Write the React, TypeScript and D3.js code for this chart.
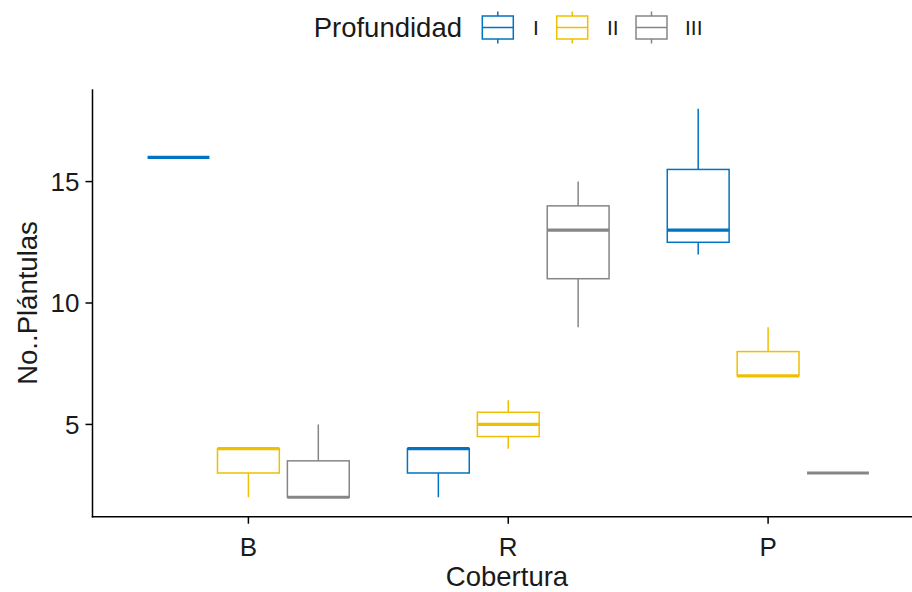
import React from "react";
import * as d3 from "d3";

// Cobertura categories and Profundidad groups
const categories = ["B", "R", "P"];
const groups = ["I", "II", "III"];
const groupColors = ["#0073C2", "#EFC000", "#868686"];

// Five-number summaries [min, q1, median, q3, max] per category (B, R, P)
const statsI = [
  [16, 16, 16, 16, 16],
  [2, 3, 4, 4, 4],
  [12, 12.5, 13, 15.5, 18],
];
const statsII = [
  [2, 3, 4, 4, 4],
  [4, 4.5, 5, 5.5, 6],
  [7, 7, 7, 8, 9],
];
const statsIII = [
  [2, 2, 2, 3.5, 5],
  [9, 11, 13, 14, 15],
  [3, 3, 3, 3, 3],
];
const seriesStats = [statsI, statsII, statsIII];

const yTicks = [5, 10, 15];
const yDomain = [1.2, 18.8];

const W = 912;
const H = 592;
const plotLeft = 92.5;
const plotRight = 924;
const plotTop = 89.3;
const plotBottom = 516.7;
const FONT = "'Liberation Sans', Arial, sans-serif";
const TITLE_SIZE = 27.5;
const TICK_SIZE = 26;

export default function App() {
  const x = d3
    .scalePoint<string>()
    .domain(categories)
    .range([plotLeft, plotRight])
    .padding(0.6);
  const step = x.step();
  const slot = step * 0.269;
  const boxW = step * 0.238;
  const y = d3.scaleLinear().domain(yDomain).range([plotBottom, plotTop]);

  const boxes: React.ReactNode[] = [];
  seriesStats.forEach((stats, gi) => {
    const color = groupColors[gi];
    stats.forEach((s, ci) => {
      const cx = (x(categories[ci]) as number) + (gi - 1) * slot;
      const [mn, q1, med, q3, mx] = s;
      const x0 = cx - boxW / 2;
      boxes.push(
        <g key={`${gi}-${ci}`} stroke={color} fill="white">
          {mx > q3 && (
            <line x1={cx} x2={cx} y1={y(q3)} y2={y(mx)} strokeWidth={1.5} />
          )}
          {mn < q1 && (
            <line x1={cx} x2={cx} y1={y(q1)} y2={y(mn)} strokeWidth={1.5} />
          )}
          <rect
            x={x0}
            y={y(q3)}
            width={boxW}
            height={Math.max(0, y(q1) - y(q3))}
            strokeWidth={1.5}
          />
          <line
            x1={x0}
            x2={x0 + boxW}
            y1={y(med)}
            y2={y(med)}
            strokeWidth={3.2}
          />
        </g>
      );
    });
  });

  // legend layout
  const legendY = 27.5;
  const keyW = 31;
  const keyH = 23;
  const keyX = [482.3, 556.7, 636];
  const labelX = [533, 607, 685];

  return (
    <svg
      width={W}
      height={H}
      style={{ position: "fixed", left: 0, top: 0, background: "white" }}
      fontFamily={FONT}
    >
      <rect x={0} y={0} width={W} height={H} fill="white" />
      {boxes}

      {/* axes */}
      <line
        x1={plotLeft}
        x2={plotLeft}
        y1={plotTop}
        y2={plotBottom + 0.75}
        stroke="#000"
        strokeWidth={1.5}
      />
      <line
        x1={plotLeft - 0.75}
        x2={plotRight}
        y1={plotBottom}
        y2={plotBottom}
        stroke="#000"
        strokeWidth={1.5}
      />
      {yTicks.map((t) => (
        <g key={`y${t}`}>
          <line
            x1={plotLeft - 7}
            x2={plotLeft}
            y1={y(t)}
            y2={y(t)}
            stroke="#000"
            strokeWidth={1.5}
          />
          <text
            x={plotLeft - 13}
            y={y(t)}
            dy="0.36em"
            textAnchor="end"
            fontSize={TICK_SIZE}
            fill="#1a1a1a"
          >
            {t}
          </text>
        </g>
      ))}
      {categories.map((c) => (
        <g key={`x${c}`}>
          <line
            x1={x(c)}
            x2={x(c)}
            y1={plotBottom}
            y2={plotBottom + 7}
            stroke="#000"
            strokeWidth={1.5}
          />
          <text
            x={x(c)}
            y={556}
            textAnchor="middle"
            fontSize={TICK_SIZE}
            fill="#1a1a1a"
          >
            {c}
          </text>
        </g>
      ))}

      {/* axis titles */}
      <text
        x={507}
        y={585.5}
        textAnchor="middle"
        fontSize={TITLE_SIZE}
        fill="#1a1a1a"
      >
        Cobertura
      </text>
      <text
        transform={`translate(37,${303}) rotate(-90)`}
        textAnchor="middle"
        fontSize={TITLE_SIZE}
        fill="#1a1a1a"
      >
        No..Plántulas
      </text>

      {/* legend */}
      <text
        x={462}
        y={legendY}
        dy="0.36em"
        textAnchor="end"
        fontSize={TITLE_SIZE}
        fill="#1a1a1a"
      >
        Profundidad
      </text>
      {groups.map((g, i) => {
        const kx = keyX[i];
        const cx = kx + keyW / 2;
        const top = legendY - keyH / 2;
        return (
          <g key={`leg${g}`}>
            <g stroke={groupColors[i]} strokeWidth={1.5} fill="white">
              <line x1={cx} x2={cx} y1={top - 4.5} y2={top} />
              <line x1={cx} x2={cx} y1={top + keyH} y2={top + keyH + 4.5} />
              <rect x={kx} y={top} width={keyW} height={keyH} />
              <line x1={kx} x2={kx + keyW} y1={legendY} y2={legendY} />
            </g>
            <text
              x={labelX[i]}
              y={legendY}
              dy="0.36em"
              fontSize={21}
              fill="#1a1a1a"
            >
              {g}
            </text>
          </g>
        );
      })}
    </svg>
  );
}
